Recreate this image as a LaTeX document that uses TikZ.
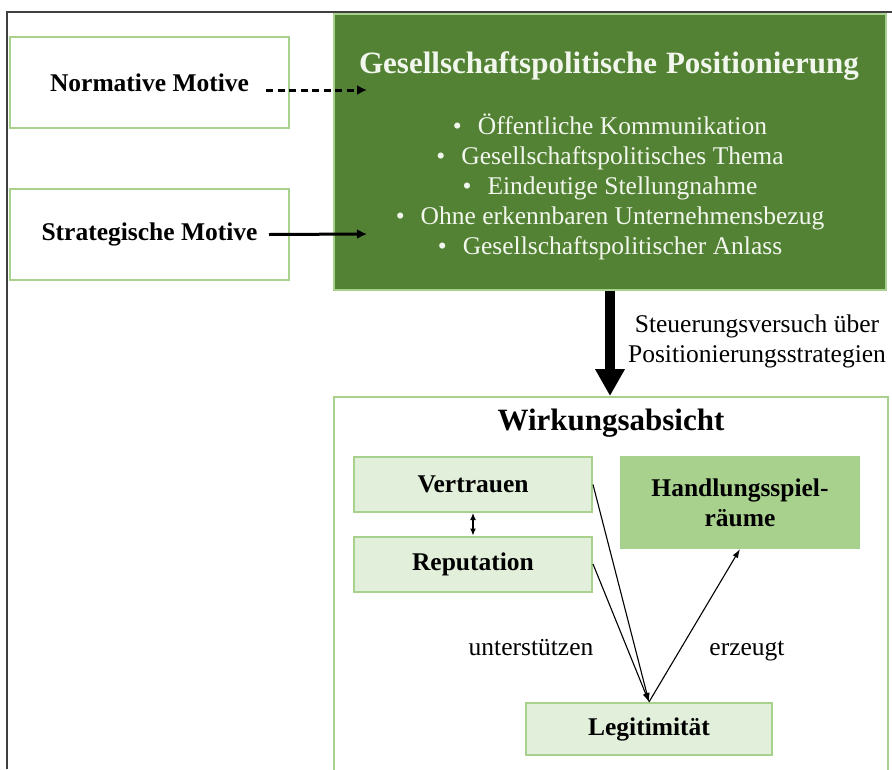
\documentclass[tikz,border=0pt]{standalone}
\usepackage{fontspec}
\setmainfont{Liberation Serif}
\usetikzlibrary{arrows.meta}
\definecolor{darkgreen}{HTML}{548235}
\definecolor{midgreen}{HTML}{A9D18E}
\definecolor{palegreen}{HTML}{E2EFDA}
\definecolor{paletext}{HTML}{F2F7EE}
\newcommand{\topic}[1]{\textbullet\hspace{16pt}#1}
\tikzset{
  bodyfont/.style={font=\fontsize{25.5}{30}\selectfont},
  headfont/.style={font=\fontsize{31}{36}\selectfont\bfseries},
  motivebox/.style={draw=midgreen,line width=2pt,fill=white,minimum width=279pt,minimum height=91pt,font=\fontsize{25.5}{30}\selectfont\bfseries},
  effectbox/.style={draw=midgreen,line width=2pt,fill=palegreen,minimum width=238pt,minimum height=55pt,font=\fontsize{25.5}{30}\selectfont\bfseries},
  thinarrow/.style={line width=1.1pt,-{Latex[length=9pt,width=6pt]}},
}
\begin{document}
\begin{tikzpicture}[x=1pt,y=-1pt]
\useasboundingbox (0,0) rectangle (892,769);
\draw[line width=1.5pt,black!75] (7,769) -- (7,12) -- (892,12);
% Motive
\node[motivebox] (norm) at (149.5,82.5) {Normative Motive};
\node[motivebox] (strat) at (149.5,234.5) {Strategische Motive};
% Positionierung
\node[draw=midgreen,line width=2pt,fill=darkgreen,minimum width=552pt,minimum height=276pt] (pos) at (610,152) {};
\node[headfont,text=paletext,anchor=base] (postitle) at (609,73) {Gesellschaftspolitische\hspace{9pt}Positionierung};
\node[bodyfont,text=paletext,anchor=base] (t1) at (610,134) {\topic{Öffentliche Kommunikation}};
\node[bodyfont,text=paletext,anchor=base] (t2) at (610,164) {\topic{Gesellschaftspolitisches Thema}};
\node[bodyfont,text=paletext,anchor=base] (t3) at (610,194) {\topic{Eindeutige Stellungnahme}};
\node[bodyfont,text=paletext,anchor=base] (t4) at (610,224) {\topic{Ohne erkennbaren Unternehmensbezug}};
\node[bodyfont,text=paletext,anchor=base] (t5) at (610,254) {\topic{Gesellschaftspolitischer Anlass}};
\coordinate (normin) at (367,90);
\coordinate (stratin) at (367,234);
\draw[line width=3pt,dash pattern=on 7pt off 4.5pt,-{Latex[length=10pt,width=10pt]}] ([shift={(-24,7.5)}]norm.east) -- (normin);
\draw[line width=3pt,-{Latex[length=10pt,width=10pt]}] ([shift={(-21,0)}]strat.east) -- (stratin);
% Wirkungsabsicht
\node[draw=midgreen,line width=2pt,minimum width=554pt,minimum height=403pt] (effect) at (611,598.5) {};
\draw[line width=10pt,-{Triangle[length=27pt 0,width=28pt 0]}] (pos.south) -- (pos.south |- effect.north);
\node[bodyfont,align=center] (steer) at (757,341) {Steuerungsversuch über\\Positionierungsstrategien};
\node[headfont,anchor=base] (efftitle) at (611,430) {Wirkungsabsicht};
\node[effectbox] (vert) at (473,484.5) {Vertrauen};
\node[effectbox] (rep) at (473,564) {Reputation};
\node[effectbox,fill=midgreen,minimum height=91pt,align=center] (handl) at (740,502.5) {Handlungsspiel-\\räume};
\node[effectbox,minimum width=246pt,minimum height=52pt] (legit) at (649,729) {Legitimität};
\draw[line width=1.2pt,{Latex[length=7pt,width=6pt]}-{Latex[length=7pt,width=6pt]}] (vert.south) -- (rep.north);
\draw[thinarrow] (vert.east) -- (legit.north);
\draw[thinarrow] (rep.east) -- (legit.north);
\draw[thinarrow] (legit.north) -- (handl.south);
\node[bodyfont,anchor=base] (supp) at (531,655) {unterstützen};
\node[bodyfont,anchor=base] (gen) at (747,655) {erzeugt};
\end{tikzpicture}
\end{document}
